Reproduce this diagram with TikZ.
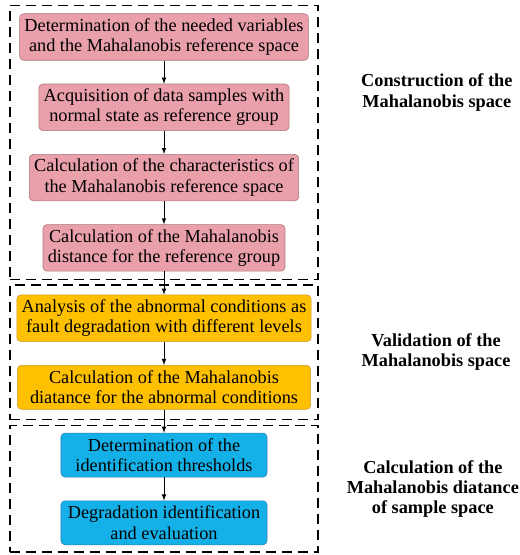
\documentclass[tikz,border=0pt]{standalone}
\usepackage{fontspec}
\setmainfont{Liberation Serif}
\usepackage{xcolor}
\usetikzlibrary{shapes,arrows,positioning,fit,calc}
\definecolor{pinkfill}{RGB}{233,160,170}
\definecolor{pinkdraw}{RGB}{170,115,122}
\definecolor{orangefill}{RGB}{255,192,0}
\definecolor{orangedraw}{RGB}{200,150,40}
\definecolor{bluefill}{RGB}{20,176,232}
\definecolor{bluedraw}{RGB}{40,130,180}

\begin{document}
\begin{tikzpicture}[
    node distance=0.58cm,
    block/.style={rectangle, draw, align=center, rounded corners=0.1cm, minimum height=1.1cm, inner xsep=0.12cm, font=\rmfamily\fontsize{13}{14.5}\selectfont},
    pinkblock/.style={block, fill=pinkfill, draw=pinkdraw},
    orangeblock/.style={block, fill=orangefill, draw=orangedraw, minimum width=7.33cm},
    blueblock/.style={block, fill=bluefill, draw=bluedraw, minimum width=5.15cm},
    line/.style={draw, -latex, line width=0.5pt},
    group/.style={rectangle, draw, dash pattern=on 0.25cm off 0.15cm, line width=1.2pt, inner xsep=0pt},
    title/.style={align=center, font=\rmfamily\fontsize{13}{14.5}\selectfont\bfseries}
]
\useasboundingbox (-4.1,0.925) rectangle (8.875,-12.95);
% Construction of the reference space
\node [pinkblock] (variables) {Determination of the needed variables\\and the Mahalanobis reference space};
\node [pinkblock, below=of variables] (samples) {Acquisition of data samples with\\normal state as reference group};
\node [pinkblock, below=of samples] (characteristics) {Calculation of the characteristics of\\the Mahalanobis reference space};
\node [pinkblock, below=of characteristics] (refdist) {Calculation of the Mahalanobis\\distance for the reference group};

% Validation
\node [orangeblock, below=of refdist] (abnormal) {Analysis of the abnormal conditions as\\fault degradation with different levels};
\node [orangeblock, below=of abnormal] (abndist) {Calculation of the Mahalanobis\\diatance for the abnormal conditions};

% Sample space
\node [blueblock, below=of abndist] (thresholds) {Determination of the\\identification thresholds};
\node [blueblock, below=of thresholds] (evaluation) {Degradation identification\\and evaluation};

% Groups
\coordinate (gwest) at (-3.85,0);
\coordinate (geast) at (3.85,0);
\node [group, inner ysep=0.2cm, fit=(variables)(refdist)(gwest|-variables)(geast|-variables)] (construction) {};
\node [group, inner ysep=0.25cm, fit=(abnormal)(abndist)(gwest|-abnormal)(geast|-abnormal)] (validation) {};
\node [group, inner ysep=0.18cm, fit=(thresholds)(evaluation)(gwest|-thresholds)(geast|-thresholds)] (samplespace) {};

% Titles
\node [title] at ($(construction.east)+(2.95cm,1.25cm)$) (constitle) {Construction of the\\Mahalanobis space};
\node [title] at ($(validation.east)+(2.93cm,0)$) (validtitle) {Validation of the\\Mahalanobis space};
\node [title] at ($(samplespace.east)+(2.85cm,0)$) (sampletitle) {Calculation of the\\Mahalanobis diatance\\of sample space};

% Connections
\path [line] (variables) -- (samples);
\path [line] (samples) -- (characteristics);
\path [line] (characteristics) -- (refdist);
\path [line] (refdist) -- (abnormal);
\path [line] (abnormal) -- (abndist);
\path [line] (abndist) -- (thresholds);
\path [line] (thresholds) -- (evaluation);
\end{tikzpicture}
\end{document}
